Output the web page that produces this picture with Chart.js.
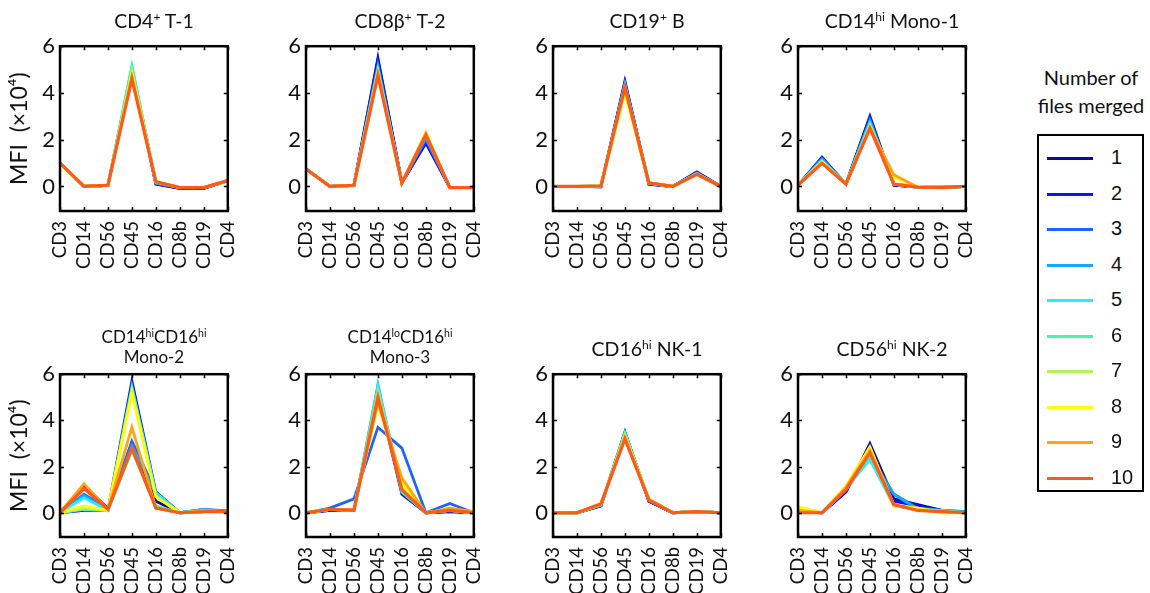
<!DOCTYPE html>
<html lang="en">
<head>
<meta charset="UTF-8">
<title>MFI vs number of files merged</title>
<script src="https://cdn.jsdelivr.net/npm/chart.js@4"></script>
<style>
  body { margin: 0; background: #fff; font-family: Lato, "Open Sans", sans-serif; color: #111; }
  #fig { position: relative; width: 1150px; height: 593px; overflow: hidden; }
  #fig canvas { position: absolute; }
  .ttl { position: absolute; text-align: center; white-space: nowrap; transform: translateX(-50%); }
  .ttl sup { font-size: 0.62em; vertical-align: 0.55em; line-height: 0; }
  .legend-title { position: absolute; left: 1028px; width: 126px; top: 63px; text-align: center; font-size: 20px; line-height: 28px; }
  .legend-box { position: absolute; left: 1037px; top: 134px; width: 103px; height: 354px; border: 2px solid #000; }
  .legend-row { position: absolute; left: 0; width: 100%; height: 30px; }
  .legend-row i { position: absolute; left: 8px; top: 14px; width: 46px; height: 3px; }
  .legend-row span { position: absolute; left: 72px; top: 3px; font-family: "Liberation Sans", Arial, sans-serif; font-size: 20px; }
</style>
</head>
<body>
<div id="fig"></div>

<script>
  // markers on the x axis
  const markers = ['CD3', 'CD14', 'CD56', 'CD45', 'CD16', 'CD8b', 'CD19', 'CD4'];
  const fileCounts = ['1', '2', '3', '4', '5', '6', '7', '8', '9', '10'];
  const seriesColors = ['#0a0a9c', '#1010f0', '#1a66ff', '#12aaff', '#2aeeff',
                        '#4af2aa', '#b2f25a', '#ffff00', '#ffa510', '#ff5a1a'];
  const yTickValues = [0, 2, 4, 6];

  // MFI (x10^4), one row per number of files merged (1..10)
  const cd4T1 = [
    [1.0, 0.0, 0.05, 4.9, 0.1, -0.08, -0.08, 0.25],
    [1.0, 0.0, 0.05, 4.95, 0.1, -0.08, -0.08, 0.25],
    [1.0, 0.0, 0.05, 5.0, 0.15, -0.06, -0.06, 0.25],
    [1.0, 0.0, 0.05, 5.1, 0.15, -0.05, -0.05, 0.25],
    [1.0, 0.0, 0.05, 5.15, 0.2, -0.05, -0.05, 0.25],
    [1.0, 0.0, 0.05, 5.05, 0.2, -0.05, -0.05, 0.25],
    [0.98, 0.0, 0.05, 4.9, 0.2, -0.05, -0.05, 0.25],
    [0.95, 0.0, 0.05, 4.85, 0.2, -0.05, -0.05, 0.25],
    [1.0, 0.0, 0.05, 4.7, 0.2, -0.05, -0.05, 0.25],
    [1.0, 0.0, 0.05, 4.6, 0.2, -0.05, -0.05, 0.25]
  ];
  const cd8T2 = [
    [0.75, 0.0, 0.05, 5.4, 0.15, 1.9, -0.05, -0.05],
    [0.75, 0.0, 0.05, 5.5, 0.15, 1.85, -0.05, -0.05],
    [0.75, 0.0, 0.05, 5.2, 0.15, 2.0, -0.05, -0.05],
    [0.75, 0.0, 0.05, 5.1, 0.15, 2.1, -0.05, -0.05],
    [0.75, 0.0, 0.05, 5.0, 0.15, 2.2, -0.05, -0.05],
    [0.75, 0.0, 0.05, 4.95, 0.15, 2.25, -0.05, -0.05],
    [0.75, 0.0, 0.05, 4.9, 0.15, 2.3, -0.05, -0.05],
    [0.75, 0.0, 0.05, 4.85, 0.15, 2.3, -0.05, -0.05],
    [0.75, 0.0, 0.05, 4.8, 0.15, 2.25, -0.05, -0.05],
    [0.75, 0.0, 0.05, 4.75, 0.15, 2.2, -0.05, -0.05]
  ];
  const cd19B = [
    [0.0, 0.0, -0.02, 4.45, 0.1, 0.0, 0.6, 0.0],
    [0.0, 0.0, -0.02, 4.5, 0.1, 0.0, 0.62, 0.0],
    [0.0, 0.0, 0.0, 4.4, 0.12, 0.0, 0.58, 0.0],
    [0.0, 0.0, 0.02, 4.35, 0.15, 0.0, 0.55, 0.0],
    [0.0, 0.0, 0.02, 4.3, 0.15, 0.0, 0.55, 0.0],
    [0.0, 0.0, 0.02, 4.25, 0.15, 0.0, 0.55, 0.0],
    [0.0, 0.0, 0.02, 4.15, 0.15, 0.0, 0.52, 0.0],
    [0.0, 0.0, 0.02, 4.0, 0.15, 0.0, 0.52, 0.0],
    [0.0, 0.0, 0.02, 4.2, 0.15, 0.0, 0.52, 0.0],
    [0.0, 0.0, 0.02, 4.25, 0.15, 0.0, 0.52, 0.0]
  ];
  const cd14Mono1 = [
    [0.05, 1.2, 0.1, 2.95, 0.05, -0.03, -0.05, 0.0],
    [0.05, 1.25, 0.1, 3.0, 0.05, -0.03, -0.05, 0.0],
    [0.05, 1.2, 0.1, 2.85, 0.1, -0.03, -0.05, 0.0],
    [0.05, 1.15, 0.1, 2.8, 0.1, -0.03, -0.05, 0.0],
    [0.05, 1.1, 0.1, 2.7, 0.1, -0.03, -0.05, 0.0],
    [0.05, 1.1, 0.1, 2.65, 0.1, -0.03, -0.05, 0.0],
    [0.05, 1.05, 0.1, 2.6, 0.1, -0.03, -0.05, 0.0],
    [0.05, 1.05, 0.1, 2.55, 0.4, -0.03, 0.0, 0.0],
    [0.05, 1.0, 0.1, 2.5, 0.5, -0.03, 0.0, 0.0],
    [0.05, 1.0, 0.1, 2.5, 0.1, -0.03, -0.05, 0.0]
  ];
  const mono2 = [
    [0.0, 1.15, 0.2, 3.0, 0.5, 0.0, 0.05, 0.05],
    [0.0, 0.1, 0.1, 5.7, 0.9, 0.0, 0.05, 0.05],
    [0.0, 0.8, 0.15, 3.1, 0.9, 0.0, 0.15, 0.08],
    [0.0, 0.75, 0.1, 2.9, 0.85, 0.0, 0.15, 0.05],
    [0.0, 0.65, 0.1, 5.45, 0.85, 0.0, 0.1, 0.05],
    [0.0, 0.15, 0.1, 2.7, 0.3, 0.0, 0.05, 0.05],
    [0.0, 0.2, 0.1, 5.3, 0.7, 0.0, 0.05, 0.05],
    [0.0, 0.3, 0.1, 5.2, 0.7, 0.0, 0.05, 0.05],
    [0.0, 1.25, 0.15, 3.7, 0.2, 0.0, 0.05, 0.05],
    [0.0, 1.05, 0.15, 2.8, 0.2, 0.0, 0.05, 0.05]
  ];
  const mono3 = [
    [0.0, 0.1, 0.1, 5.2, 0.8, 0.0, 0.05, 0.0],
    [0.0, 0.1, 0.1, 5.3, 1.0, 0.0, 0.05, 0.0],
    [0.0, 0.2, 0.6, 3.7, 2.8, 0.0, 0.4, 0.0],
    [0.0, 0.15, 0.1, 5.55, 0.9, 0.0, 0.1, 0.0],
    [0.0, 0.15, 0.1, 5.45, 0.9, 0.0, 0.1, 0.0],
    [0.0, 0.15, 0.1, 5.3, 1.0, 0.0, 0.1, 0.0],
    [0.0, 0.15, 0.1, 5.2, 1.1, 0.0, 0.1, 0.0],
    [0.0, 0.15, 0.15, 4.7, 1.3, 0.0, 0.15, 0.0],
    [0.0, 0.15, 0.15, 4.8, 1.5, 0.0, 0.2, 0.05],
    [0.0, 0.15, 0.1, 5.0, 1.0, 0.0, 0.1, 0.0]
  ];
  const nk1 = [
    [0.0, 0.0, 0.3, 3.45, 0.5, 0.0, 0.05, 0.0],
    [0.0, 0.0, 0.3, 3.5, 0.5, 0.0, 0.05, 0.0],
    [0.0, 0.0, 0.32, 3.45, 0.52, 0.0, 0.05, 0.0],
    [0.0, 0.0, 0.33, 3.45, 0.55, 0.0, 0.05, 0.0],
    [0.0, 0.0, 0.35, 3.45, 0.55, 0.0, 0.05, 0.0],
    [0.0, 0.0, 0.35, 3.4, 0.57, 0.0, 0.05, 0.0],
    [0.0, 0.0, 0.35, 3.35, 0.6, 0.0, 0.05, 0.0],
    [0.0, 0.0, 0.38, 3.3, 0.6, 0.0, 0.05, 0.0],
    [0.0, 0.0, 0.4, 3.25, 0.57, 0.0, 0.05, 0.0],
    [0.0, 0.0, 0.38, 3.2, 0.55, 0.0, 0.05, 0.0]
  ];
  const nk2 = [
    [0.05, 0.0, 0.9, 3.0, 0.6, 0.35, 0.1, 0.0],
    [0.05, 0.0, 0.9, 2.9, 0.5, 0.3, 0.1, 0.0],
    [0.1, 0.0, 1.0, 2.5, 0.8, 0.2, 0.1, 0.05],
    [0.1, 0.0, 1.0, 2.4, 0.8, 0.15, 0.1, 0.05],
    [0.15, 0.0, 1.05, 2.3, 0.3, 0.15, 0.1, 0.0],
    [0.2, 0.0, 1.0, 2.5, 0.3, 0.15, 0.05, 0.0],
    [0.25, 0.0, 1.1, 2.8, 0.3, 0.2, 0.05, 0.0],
    [0.25, 0.0, 1.15, 2.85, 0.3, 0.2, 0.0, 0.0],
    [0.1, 0.0, 1.1, 2.7, 0.35, 0.1, 0.05, 0.0],
    [0.0, 0.0, 1.0, 2.6, 0.35, 0.1, 0.05, 0.0]
  ];

  const panels = [
    { title: 'CD4<sup>+</sup> T-1', data: cd4T1, col: 0, row: 0 },
    { title: 'CD8β<sup>+</sup> T-2', data: cd8T2, col: 1, row: 0 },
    { title: 'CD19<sup>+</sup> B', data: cd19B, col: 2, row: 0 },
    { title: 'CD14<sup>hi</sup> Mono-1', data: cd14Mono1, col: 3, row: 0 },
    { title: 'CD14<sup>hi</sup>CD16<sup>hi</sup><br>Mono-2', data: mono2, col: 0, row: 1, small: true },
    { title: 'CD14<sup>lo</sup>CD16<sup>hi</sup><br>Mono-3', data: mono3, col: 1, row: 1, small: true },
    { title: 'CD16<sup>hi</sup> NK-1', data: nk1, col: 2, row: 1 },
    { title: 'CD56<sup>hi</sup> NK-2', data: nk2, col: 3, row: 1 }
  ];

  // layout of the grid (pixels)
  const plotLeft = [60, 306, 553, 798];
  const plotTop = [42, 370];
  const plotH = [169, 167];
  const plotW = 188;
  const padTop = 14, padRight = 12, xAxisH = 76;

  // box around the plot area and small inward ticks, like the original figure
  const framePlugin = {
    id: 'frame',
    afterDraw(chart) {
      const { ctx, chartArea: a, scales } = chart;
      const x = scales.x, y = scales.y;
      ctx.save();
      ctx.strokeStyle = '#000';
      ctx.lineWidth = 1.5;
      ctx.beginPath();
      x.ticks.forEach((t, i) => {
        const px = Math.round(x.getPixelForTick(i)) + 0.5;
        ctx.moveTo(px, a.top); ctx.lineTo(px, a.top + 4);
        ctx.moveTo(px, a.bottom); ctx.lineTo(px, a.bottom - 4);
      });
      y.ticks.forEach((t, i) => {
        const py = Math.round(y.getPixelForTick(i)) + 0.5;
        ctx.moveTo(a.left, py); ctx.lineTo(a.left + 4, py);
        ctx.moveTo(a.right, py); ctx.lineTo(a.right - 4, py);
      });
      ctx.stroke();
      ctx.lineWidth = 2.5;
      ctx.strokeRect(a.left, a.top, a.right - a.left, a.bottom - a.top);
      ctx.restore();
    }
  };

  const fig = document.getElementById('fig');

  panels.forEach(p => {
    const yW = p.col === 0 ? 60 : 46;
    const canvas = document.createElement('canvas');
    canvas.width = yW + plotW + padRight;
    canvas.height = padTop + plotH[p.row] + xAxisH;
    canvas.style.left = (plotLeft[p.col] - yW) + 'px';
    canvas.style.top = (plotTop[p.row] - padTop) + 'px';
    fig.appendChild(canvas);

    new Chart(canvas, {
      type: 'line',
      data: {
        labels: markers,
        datasets: p.data.map((vals, i) => ({
          label: fileCounts[i],
          data: vals,
          borderColor: seriesColors[i],
          backgroundColor: seriesColors[i],
          borderWidth: i === 9 ? 3.2 : 2.8,
          pointRadius: 0,
          tension: 0,
          order: fileCounts.length - i
        }))
      },
      options: {
        responsive: false,
        animation: false,
        layout: { padding: { top: padTop, right: padRight, left: 0, bottom: 0 } },
        plugins: { legend: { display: false }, tooltip: { enabled: false } },
        scales: {
          x: {
            offset: false,
            grid: { display: false, drawTicks: false },
            border: { display: false },
            ticks: {
              minRotation: 90, maxRotation: 90, padding: 10, autoSkip: false,
              color: '#111', font: { family: 'Lato', size: 18.5 }
            },
            afterFit: s => { s.height = xAxisH; }
          },
          y: {
            min: -1.05, max: 6.0,
            grid: { display: false, drawTicks: false },
            border: { display: false },
            afterBuildTicks: s => { s.ticks = yTickValues.map(v => ({ value: v })); },
            ticks: { padding: 5, color: '#111', font: { family: 'Lato', size: 22 } },
            title: {
              display: p.col === 0,
              text: 'MFI  (×10⁴)',
              color: '#111',
              font: { family: 'Lato', size: 23 },
              padding: { top: 6, bottom: 0 }
            },
            afterFit: s => { s.width = yW; }
          }
        }
      },
      plugins: [framePlugin]
    });

    const t = document.createElement('div');
    t.className = 'ttl';
    t.innerHTML = p.title;
    t.style.left = (plotLeft[p.col] + plotW / 2) + 'px';
    if (p.small) {
      t.style.fontSize = '17px';
      t.style.lineHeight = '20px';
      t.style.top = (plotTop[p.row] - 43) + 'px';
    } else {
      t.style.fontSize = '19.5px';
      t.style.lineHeight = '22px';
      t.style.top = (plotTop[p.row] - 32) + 'px';
    }
    fig.appendChild(t);
  });

  // legend: number of files merged
  const lt = document.createElement('div');
  lt.className = 'legend-title';
  lt.innerHTML = 'Number of<br>files merged';
  fig.appendChild(lt);

  const box = document.createElement('div');
  box.className = 'legend-box';
  fileCounts.forEach((n, i) => {
    const row = document.createElement('div');
    row.className = 'legend-row';
    row.style.top = (7 + i * 35.5) + 'px';
    row.innerHTML = '<i style="background:' + seriesColors[i] + '"></i><span>' + n + '</span>';
    box.appendChild(row);
  });
  fig.appendChild(box);
</script>
</body>
</html>
